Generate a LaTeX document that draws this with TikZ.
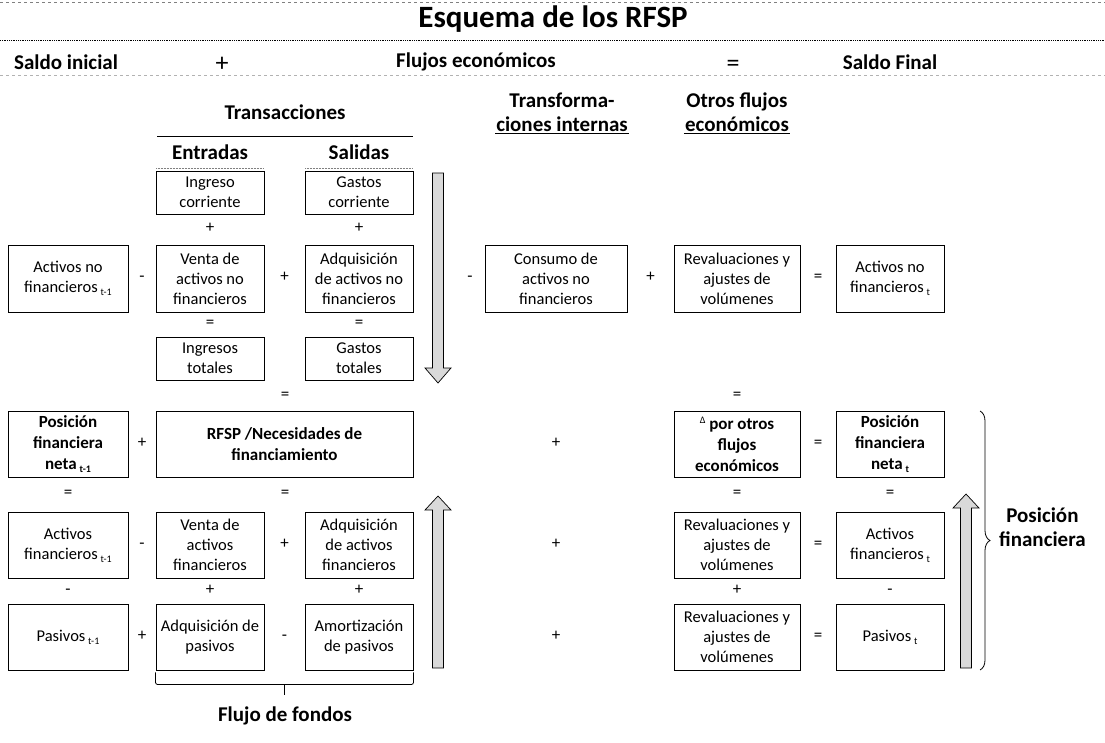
\documentclass[tikz,border=0pt]{standalone}
\usepackage{fontspec}
\setmainfont{Carlito}
\usetikzlibrary{calc,decorations.pathreplacing}

\newcommand{\tsub}[1]{\,\raisebox{-0.4ex}{\fontsize{10}{10}\selectfont #1}}

\begin{document}
\begin{tikzpicture}[x=1pt,y=-1pt,
  box/.style={draw,line width=0.9pt,align=center,inner sep=1pt,font=\fontsize{16.5}{20}\selectfont},
  bbox/.style={box,font=\fontsize{17}{21}\selectfont\bfseries},
  op/.style={font=\fontsize{17}{17}\selectfont,inner sep=0pt,text height=0.6em,text depth=0pt},
  bigop/.style={op,font=\fontsize{26}{26}\selectfont},
  head/.style={font=\fontsize{21}{24}\selectfont\bfseries,align=center,inner sep=1pt},
  rule/.style={line width=0.6pt},
  fatarrow/.style={draw,line width=0.7pt,fill=gray!30}]
  \useasboundingbox (0,0) rectangle (1105,742);

  % cabecera
  \draw[gray,dashed,line width=0.5pt] (0,2) -- (1105,2);
  \node[font=\fontsize{31}{32}\selectfont\bfseries] (title) at (553,19) {Esquema de los RFSP};
  \draw[densely dotted,line width=0.8pt] (0,40) -- (1105,40);
  \node[head] (si) at (66,62) {Saldo inicial};
  \node[bigop] (mas) at (222,68) {+};
  \node[head] (fe) at (476,62) {Flujos económicos};
  \node[bigop] (igual) at (733,68) {=};
  \node[head] (sf) at (890,62) {Saldo Final};
  \draw[gray!60,dashed,line width=0.4pt] (0,75) -- (1105,75);

  \node[head] (trans) at (285,112) {Transacciones};
  \node[head] (tint) at (562,112) {Transforma-\\ciones internas};
  \node[head] (ofe) at (737,112) {Otros flujos\\económicos};
  \draw[rule] (157,136) -- (413,136);
  \draw[rule] ([yshift=-1pt]tint.south west) -- ([yshift=-1pt]tint.south east);
  \draw[rule] ([yshift=-1pt]ofe.south west) -- ([yshift=-1pt]ofe.south east);
  \node[head] (ent) at (210,152) {Entradas};
  \node[head] (sal) at (359,152) {Salidas};
  \draw[gray,densely dotted,line width=0.5pt] (156,168) -- (264,168);
  \draw[gray,densely dotted,line width=0.5pt] (305,168) -- (413,168);

  % activos no financieros
  \node[box,minimum width=108,minimum height=43] (ic) at (210,192.5) {Ingreso\\corriente};
  \node[box,minimum width=108,minimum height=43] (gc) at (359,192.5) {Gastos\\corriente};
  \node[box,minimum width=120,minimum height=67] (anf0) at (68,278.5) {Activos no\\financieros\tsub{t-1}};
  \node[box,minimum width=108,minimum height=67] (vanf) at (210,278.5) {Venta de\\activos no\\financieros};
  \node[box,minimum width=108,minimum height=67] (aanf) at (359,278.5) {Adquisición\\de activos no\\financieros};
  \node[box,minimum width=142,minimum height=67] (canf) at (556,278.5) {Consumo de\\activos no\\financieros};
  \node[box,minimum width=126,minimum height=67] (ranf) at (737,278.5) {Revaluaciones y\\ajustes de\\volúmenes};
  \node[box,minimum width=108,minimum height=67] (anf1) at (890,278.5) {Activos no\\financieros\tsub{t}};
  \node[box,minimum width=108,minimum height=43] (it) at (210,358.5) {Ingresos\\totales};
  \node[box,minimum width=108,minimum height=43] (gt) at (359,358.5) {Gastos\\totales};

  \node[op] (o1) at ($(ic.south)!0.5!(vanf.north)$) {+};
  \node[op] (o2) at ($(gc.south)!0.5!(aanf.north)$) {+};
  \node[op] (o3) at ($(anf0.east)!0.5!(vanf.west)$) {-};
  \node[op] (o4) at ($(vanf.east)!0.5!(aanf.west)$) {+};
  \node[op] (o5) at (470,278.5) {-};
  \node[op] (o6) at ($(canf.east)!0.5!(ranf.west)$) {+};
  \node[op] (o7) at ($(ranf.east)!0.5!(anf1.west)$) {=};
  \node[op] (o8) at ($(vanf.south)!0.5!(it.north)$) {=};
  \node[op] (o9) at ($(aanf.south)!0.5!(gt.north)$) {=};

  % posicion financiera
  \node[bbox,minimum width=120,minimum height=66] (pfn0) at (68,444) {Posición\\financiera\\neta\tsub{t-1}};
  \node[bbox,minimum width=257,minimum height=66] (rfsp) at (284.5,444) {RFSP /Necesidades de\\financiamiento};
  \node[bbox,minimum width=126,minimum height=66] (dofe) at (737,444) {\raisebox{.7ex}{\fontsize{10}{10}\selectfont\mdseries Δ} por otros\\flujos\\económicos};
  \node[bbox,minimum width=108,minimum height=66] (pfn1) at (890,444) {Posición\\financiera\\neta\tsub{t}};
  \node[box,minimum width=120,minimum height=66] (af0) at (68,545) {Activos\\financieros\tsub{t-1}};
  \node[box,minimum width=108,minimum height=66] (vaf) at (210,545) {Venta de\\activos\\financieros};
  \node[box,minimum width=108,minimum height=66] (aaf) at (359,545) {Adquisición\\de activos\\financieros};
  \node[box,minimum width=126,minimum height=66] (raf) at (737,545) {Revaluaciones y\\ajustes de\\volúmenes};
  \node[box,minimum width=108,minimum height=66] (af1) at (890,545) {Activos\\financieros\tsub{t}};
  \node[box,minimum width=120,minimum height=66] (pas0) at (68,637) {Pasivos\tsub{t-1}};
  \node[box,minimum width=108,minimum height=66] (apas) at (210,637) {Adquisición de\\pasivos};
  \node[box,minimum width=108,minimum height=66] (amor) at (359,637) {Amortización\\de pasivos};
  \node[box,minimum width=126,minimum height=66] (rpas) at (737,637) {Revaluaciones y\\ajustes de\\volúmenes};
  \node[box,minimum width=108,minimum height=66] (pas1) at (890,637) {Pasivos\tsub{t}};

  \node[op] (p1) at (285,396) {=};
  \node[op] (p2) at ([yshift=14pt]dofe.north) {=};
  \node[op] (p3) at ($(pfn0.east)!0.5!(rfsp.west)$) {+};
  \node[op] (p4) at (556,444) {+};
  \node[op] (p5) at ($(dofe.east)!0.5!(pfn1.west)$) {=};
  \node[op] (p6) at ($(pfn0.south)!0.5!(af0.north)$) {=};
  \node[op] (p7) at (285,494) {=};
  \node[op] (p8) at ($(dofe.south)!0.5!(raf.north)$) {=};
  \node[op] (p9) at ($(pfn1.south)!0.5!(af1.north)$) {=};
  \node[op] (q1) at ($(af0.east)!0.5!(vaf.west)$) {-};
  \node[op] (q2) at ($(vaf.east)!0.5!(aaf.west)$) {+};
  \node[op] (q3) at (556,545) {+};
  \node[op] (q4) at ($(raf.east)!0.5!(af1.west)$) {=};
  \node[op] (q5) at ($(af0.south)!0.5!(pas0.north)$) {-};
  \node[op] (q6) at ($(vaf.south)!0.5!(apas.north)$) {+};
  \node[op] (q7) at ($(aaf.south)!0.5!(amor.north)$) {+};
  \node[op] (q8) at ($(raf.south)!0.5!(rpas.north)$) {+};
  \node[op] (q9) at ($(af1.south)!0.5!(pas1.north)$) {-};
  \node[op] (r1) at ($(pas0.east)!0.5!(apas.west)$) {+};
  \node[op] (r2) at ($(apas.east)!0.5!(amor.west)$) {-};
  \node[op] (r3) at (556,637) {+};
  \node[op] (r4) at ($(rpas.east)!0.5!(pas1.west)$) {=};

  % flechas
  \draw[fatarrow] (432.5,173) -- (443.5,173) -- (443.5,368) -- (451,368) -- (438,383)
    -- (425,368) -- (432.5,368) -- cycle;
  \draw[fatarrow] (432.5,668) -- (443.5,668) -- (443.5,510) -- (451,510) -- (438,496)
    -- (425,510) -- (432.5,510) -- cycle;
  \draw[fatarrow] (960.5,668) -- (971.5,668) -- (971.5,508) -- (979,508) -- (966,494)
    -- (953,508) -- (960.5,508) -- cycle;

  % llaves
  \draw[line width=0.8pt,rounded corners=2pt] ([yshift=-2pt]apas.south west) -- ++(0,12)
    -- ($([yshift=-14pt]amor.south east)$) -- ([yshift=-2pt]amor.south east);
  \draw[line width=0.8pt] (284.5,684) -- (284.5,695);
  \node[head] (fdf) at (285,716) {Flujo de fondos};
  \draw[line width=0.8pt,decorate,decoration={brace,amplitude=10pt}] (980,411) -- (980,670);
  \node[head,anchor=west] (posf) at (998,527) {Posición\\financiera};
\end{tikzpicture}
\end{document}
